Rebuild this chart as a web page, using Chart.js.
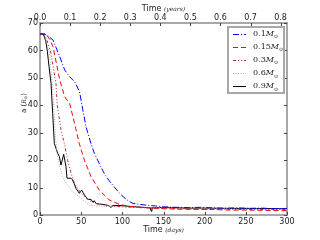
<!DOCTYPE html>
<html><head><meta charset="utf-8">
<script src="https://cdn.jsdelivr.net/npm/chart.js@4"></script>
<style>html,body{margin:0;padding:0;background:#fff}#c{display:block}</style>
</head><body>
<canvas id="c" width="320" height="240"></canvas>
<script>
const seriesLabels = ['0.1', '0.15', '0.3', '0.6', '0.9'];
const days01 = [0,5,9,15.8,24,30,36,42,48,52,56,58,62,66,70,74,78,84,90,96.7,102,108,113,120,129,140,150,165,180,195,210,225,240,255,270,285,300];
const a01    = [66,66,65.5,63.8,57.7,52.9,50.4,48.6,45,38.3,32,30,26,22.5,20,17.5,15.2,12.5,10.3,7.9,6.4,5,4.2,3.9,3.6,3.3,3.0,2.8,2.7,2.8,2.6,2.5,2.6,2.4,2.5,2.3,2.4];
const days015 = [0,7,12,15.8,19.9,24,30,36,40,43.3,47.8,53.9,62,72,84,96,110,125,150,170,190,210,230,250,270,290,300];
const a015    = [66,66,64,61.4,55.3,49.2,43.1,40.7,35.8,31.6,26,20,14,9.1,5.5,3.9,3.1,2.7,2.3,2.1,2.0,2.0,1.8,1.8,1.7,1.6,1.6];
const days03 = [0,5,8,13.4,16,19.4,21,23,25.5,29.6,33.6,37.7,41.8,46,50,56,62,70,80,90,100,120,150,200,250,300];
const a03    = [66,66,64,59,54,48,40,36,31,26,20,15.2,11.6,9.5,7.9,6.3,4.9,4,3.5,3.2,3,2.7,2.5,2.2,2.0,2.0];
const days06 = [0,5,8,11.4,13,15,17.4,19,20.6,24,27.5,32,37.7,44,50,55,60,70,90,120,150,200,250,300];
const a06    = [66,66,63,59,54,48,36,28,22.5,17.5,14,11.5,9.1,7.5,6,4.8,3.6,3.3,3.0,2.8,2.6,2.4,2.2,2.1];
const days09 = [0,4,7,9,11,13.4,15.4,17.4,19.4,21.5,23.5,25.5,28.8,31.6,32.8,35,37.7,39,41.5,43.7,46,47.8,49,50.6,52,53.9,56,57.9,62,64,66,68,72,78,84,85.5,87,88,95,100,110,120,130,134,135,136,145,160,180,200,230,260,300];
const a09    = [66,66,63.5,59.5,54,48,37,26.1,24.3,22.5,21.3,18.2,22.1,17.6,13.4,13.4,13.4,13,11.5,9.7,8.7,7.9,8.5,9.1,8.3,7.3,6.5,5.7,5.7,4.7,5.2,4.2,4,3.8,3.4,2.8,2.9,3.4,3.5,3.4,3.1,2.9,2.7,2.6,1.4,2.6,2.7,2.7,2.5,2.5,2.4,2.4,2.3];
const xTicks = [0,50,100,150,200,250,300];
const yTicks = [0,10,20,30,40,50,60,70];
const yearTicks = [0.0,0.1,0.2,0.3,0.4,0.5,0.6,0.7,0.8];

const pts = (xs, ys) => xs.map((x, i) => ({x: x, y: ys[i]}));
const styles = [
  {c:'#0000ff', d:[6,2,1,2]},
  {c:'#ff0000', d:[5,3]},
  {c:'#b03030', d:[3,2,1,2,1,2]},
  {c:'#aaaaaa', d:[1,1.5]},
  {c:'#000000', d:[]}
];
const allData = [pts(days01,a01), pts(days015,a015), pts(days03,a03), pts(days06,a06), pts(days09,a09)];
const datasets = allData.map((d, i) => ({
  label: seriesLabels[i], data: d, borderColor: styles[i].c, borderDash: styles[i].d,
  borderWidth: 1, pointRadius: 0, fill: false, tension: 0
}));

const frameTicks = {
  id: 'frameTicks',
  afterDatasetsDraw(chart) {
    const ctx = chart.ctx, a = chart.chartArea;
    const sx = chart.scales.x, sy = chart.scales.y, st = chart.scales.x2;
    ctx.save();
    ctx.setLineDash([]);
    ctx.strokeStyle = '#444'; ctx.lineWidth = 1;
    ctx.beginPath();
    xTicks.forEach(v => { const p = Math.round(sx.getPixelForValue(v)) + 0.5; ctx.moveTo(p, a.bottom); ctx.lineTo(p, a.bottom - 3); });
    yearTicks.forEach(v => { const p = Math.round(st.getPixelForValue(v)) + 0.5; ctx.moveTo(p, a.top); ctx.lineTo(p, a.top + 3); });
    yTicks.forEach(v => { const p = Math.round(sy.getPixelForValue(v)) + 0.5; ctx.moveTo(a.left, p); ctx.lineTo(a.left + 3, p); ctx.moveTo(a.right, p); ctx.lineTo(a.right - 3, p); });
    ctx.stroke();
    ctx.restore();
  }
};

const annot = {
  id: 'annot',
  afterDraw(chart) {
    const ctx = chart.ctx, a = chart.chartArea;
    ctx.save();
    ctx.setLineDash([]);
    ctx.fillStyle = '#222'; ctx.textBaseline = 'middle';
    const mixed = (parts, cx, cy) => {
      let w = 0;
      parts.forEach(p => { ctx.font = p.f; w += ctx.measureText(p.t).width; });
      let x = cx - w / 2;
      parts.forEach(p => { ctx.font = p.f; ctx.textAlign = 'left'; ctx.fillText(p.t, x, cy + (p.dy || 0)); x += ctx.measureText(p.t).width; });
    };
    const cx = (a.left + a.right) / 2;
    mixed([{t:'Time ', f:'8px "DejaVu Sans"'}, {t:'(days)', f:'italic 6px "DejaVu Serif"'}], cx, 230);
    mixed([{t:'Time ', f:'8px "DejaVu Sans"'}, {t:'(years)', f:'italic 6px "DejaVu Serif"'}], cx, 9);
    ctx.save();
    ctx.translate(24, 103); ctx.rotate(-Math.PI / 2);
    mixed([{t:'a (', f:'7px "DejaVu Sans"'}, {t:'R', f:'italic 6px "DejaVu Serif"'}, {t:'⊙', f:'4px "DejaVu Sans"', dy:2}, {t:')', f:'7px "DejaVu Sans"'}], 0, 0);
    ctx.restore();
    // legend
    const lx = 228, ly = 27, lw = 56, lh = 66;
    ctx.fillStyle = '#fff'; ctx.fillRect(lx, ly, lw, lh);
    ctx.strokeStyle = '#a8a8a8'; ctx.lineWidth = 2; ctx.strokeRect(lx, ly, lw, lh);
    chart.data.datasets.forEach((ds, i) => {
      const y = 34 + i * 13.1;
      ctx.strokeStyle = ds.borderColor; ctx.lineWidth = 1; ctx.setLineDash(ds.borderDash);
      ctx.beginPath(); ctx.moveTo(233, Math.round(y) + 0.5); ctx.lineTo(246, Math.round(y) + 0.5); ctx.stroke();
      ctx.setLineDash([]);
      ctx.fillStyle = '#222'; ctx.textAlign = 'left'; ctx.textBaseline = 'middle';
      ctx.font = '8px "DejaVu Serif"'; ctx.fillText(ds.label, 253, y);
      let x = 253 + ctx.measureText(ds.label).width;
      ctx.font = 'italic 8px "DejaVu Serif"'; ctx.fillText('M', x, y);
      x += ctx.measureText('M').width;
      ctx.font = '5px "DejaVu Sans"'; ctx.fillText('⊙', x, y + 3);
    });
    ctx.restore();
  }
};

const tickFont = { family: 'DejaVu Sans', size: 8 };
const bord = { display: true, color: '#a8a8a8', width: 2 };
new Chart(document.getElementById('c'), {
  type: 'line',
  data: { datasets: datasets },
  options: {
    responsive: false, animation: false, events: [],
    layout: { padding: { right: 0, left: 0, top: 0, bottom: 0 } },
    plugins: { legend: { display: false }, tooltip: { enabled: false } },
    scales: {
      x: {
        type: 'linear', min: 0, max: 300, position: 'bottom',
        afterBuildTicks: s => { s.ticks = xTicks.map(v => ({value: v})); },
        afterFit: s => { s.height = 25; },
        grid: { display: false, drawTicks: false }, border: bord,
        ticks: { font: tickFont, color: '#222', padding: 2, maxRotation: 0 }
      },
      x2: {
        type: 'linear', min: 0, max: 300 / 365.25, position: 'top',
        afterBuildTicks: s => { s.ticks = yearTicks.map(v => ({value: v})); },
        afterFit: s => { s.height = 23; },
        grid: { display: false, drawTicks: false }, border: bord,
        ticks: { font: tickFont, color: '#222', padding: 0, maxRotation: 0, callback: v => v.toFixed(1) }
      },
      y: {
        type: 'linear', min: 0, max: 70, position: 'left',
        afterBuildTicks: s => { s.ticks = yTicks.map(v => ({value: v})); },
        afterFit: s => { s.width = 40; },
        grid: { display: false, drawTicks: false }, border: bord,
        ticks: { font: tickFont, color: '#222', padding: 2 }
      },
      y2: {
        type: 'linear', min: 0, max: 70, position: 'right',
        afterFit: s => { s.width = 33; },
        grid: { display: false, drawTicks: false }, border: bord,
        ticks: { display: false }
      }
    }
  },
  plugins: [frameTicks, annot]
});
</script>
</body></html>
